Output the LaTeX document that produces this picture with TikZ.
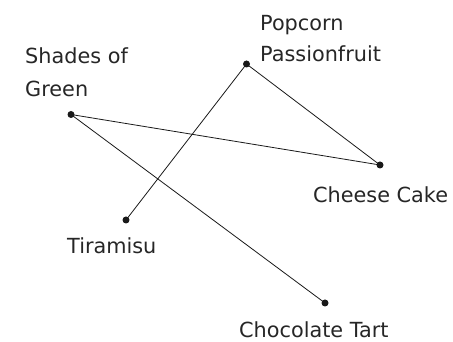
\documentclass[tikz,border=0pt]{standalone}
\usepackage{fontspec}
\setmainfont{DejaVu Sans}
\begin{document}
\begin{tikzpicture}[x=1pt,y=1pt,
  dot/.style={circle,fill=black!90,inner sep=0pt,minimum size=7pt},
  lbl/.style={anchor=base west,inner sep=0pt,text=black!85,font=\fontsize{20.8}{24}\selectfont},
  edge/.style={draw=black!90,line width=0.8pt}]
\useasboundingbox (0,0) rectangle (453,342);
\node[dot] (P) at (246.5,278) {};
\node[dot] (S) at (71,227.5) {};
\node[dot] (C) at (380,177) {};
\node[dot] (T) at (126,122) {};
\node[dot] (Ch) at (325,39) {};
\draw[edge] (S.center) -- (C.center);
\draw[edge] (S.center) -- (Ch.center);
\draw[edge] (P.center) -- (C.center);
\draw[edge] (P.center) -- (T.center);
\node[lbl] (lP1) at (260,311.3) {Popcorn};
\node[lbl] (lP2) at (260,280.3) {Passionfruit};
\node[lbl] (lS1) at (25,278) {Shades of};
\node[lbl] (lS2) at (25,245.3) {Green};
\node[lbl] (lC) at (313,139) {Cheese Cake};
\node[lbl] (lT) at (67,88) {Tiramisu};
\node[lbl] (lCh) at (239,4) {Chocolate Tart};
\end{tikzpicture}
\end{document}
